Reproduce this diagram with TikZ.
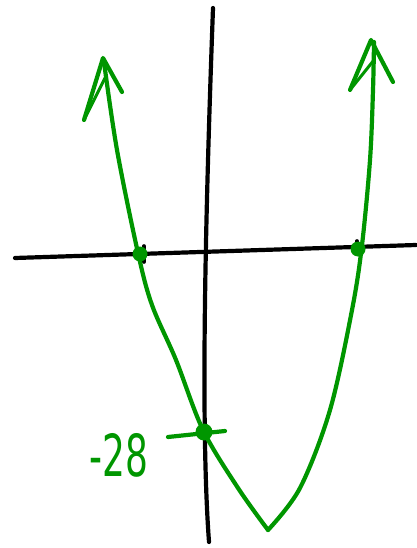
\documentclass[tikz,border=0pt]{standalone}
\usepackage{fontspec}
\setmainfont{DejaVu Sans}
\begin{document}
\begin{tikzpicture}[x=1pt,y=-1pt,
  axis/.style={draw=black,line width=4.2pt,line cap=round},
  curve/.style={draw=grn,line width=4.2pt,line cap=round,line join=round},
  blob/.style={circle,fill=grn,inner sep=0pt,minimum size=15pt}]
\definecolor{grn}{RGB}{0,150,0}
\useasboundingbox (0,0) rectangle (416,548);
% axes
\coordinate (xl) at (15,258);
\coordinate (xr) at (416,245);
\coordinate (yt) at (213,8);
\coordinate (yb) at (209,542);
\draw[axis] (xl) -- (xr);
\draw[axis] (yt) .. controls (206,200) and (200,420) .. (yb);
% ticks
\coordinate (t1a) at (144,246); \coordinate (t1b) at (144,262);
\coordinate (t2a) at (357,241); \coordinate (t2b) at (357,251);
\draw[axis,line width=3.6pt] (t1a) -- (t1b);
\draw[axis,line width=3.6pt] (t2a) -- (t2b);
% parabola
\coordinate (vx) at (268,530);
\draw[curve] plot[smooth,tension=0.55] coordinates {(104,62) (117,150) (138,253) (152,305) (176,360) (203,430) (238,488) (268,530)};
\draw[curve] plot[smooth,tension=0.55] coordinates {(268,530) (300,488) (330,410) (352,310) (362,245) (370,160) (373,90) (374,42)};
% arrowheads
\coordinate (la) at (103,58); \coordinate (lb1) at (84,120); \coordinate (lb2) at (122,92);
\draw[curve] (lb1) -- (la) -- (lb2);
\draw[curve,line width=3pt] (lb1) -- (105,78);
\coordinate (ra) at (371,40); \coordinate (rb1) at (350,90); \coordinate (rb2) at (393,82);
\draw[curve] (rb1) -- (ra) -- (rb2);
\draw[curve,line width=3pt] (rb1) -- (374,60);
% dots
\node[blob] (p1) at (140,254) {};
\node[blob] (p2) at (358,249) {};
\node[blob,minimum size=17pt] (p3) at (204,432) {};
\coordinate (ya) at (168,437); \coordinate (yz) at (225,431);
\draw[curve] (ya) -- (yz);
% label
\node[text=grn,font=\fontsize{58}{58}\selectfont,xscale=0.62,inner sep=0pt,anchor=center] (lab) at (119,455) {-28};
\end{tikzpicture}
\end{document}
